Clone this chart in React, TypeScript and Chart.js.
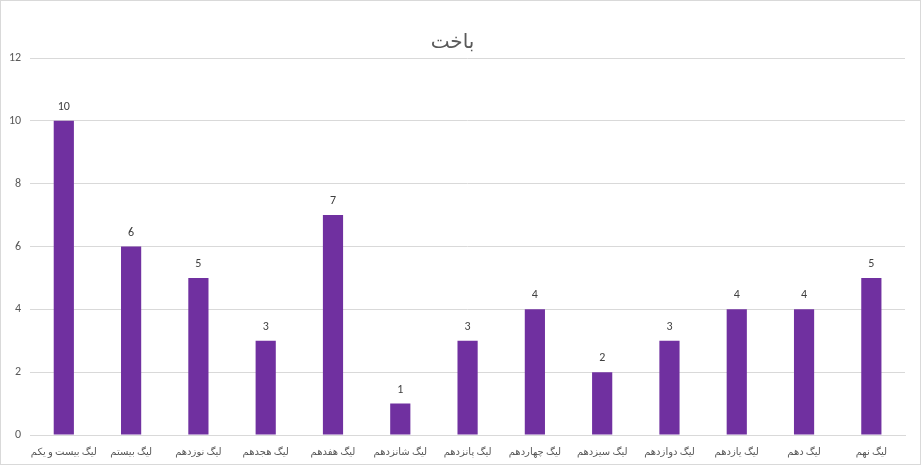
import React, { useEffect, useRef } from "react";
import { Chart, registerables } from "chart.js";

Chart.register(...registerables);

const categories = [
  "لیگ بیست و یکم",
  "لیگ بیستم",
  "لیگ نوزدهم",
  "لیگ هجدهم",
  "لیگ هفدهم",
  "لیگ شانزدهم",
  "لیگ پانزدهم",
  "لیگ چهاردهم",
  "لیگ سیزدهم",
  "لیگ دوازدهم",
  "لیگ یازدهم",
  "لیگ دهم",
  "لیگ نهم",
];
const losses = [10, 6, 5, 3, 7, 1, 3, 4, 2, 3, 4, 4, 5];
const titleText = "باخت";

const FONT = "Calibri, 'Liberation Sans', 'DejaVu Sans', sans-serif";

const dataLabels = {
  id: "dataLabels",
  afterDatasetsDraw(chart: any) {
    const ctx = chart.ctx;
    const meta = chart.getDatasetMeta(0);
    ctx.save();
    ctx.font = `12px ${FONT}`;
    ctx.fillStyle = "#404040";
    ctx.textAlign = "center";
    ctx.textBaseline = "bottom";
    meta.data.forEach((bar: any, i: number) => {
      ctx.fillText(String(chart.data.datasets[0].data[i]), bar.x, bar.y - 8);
    });
    ctx.restore();
  },
};

export default function App() {
  const ref = useRef<HTMLCanvasElement>(null);
  useEffect(() => {
    document.body.style.margin = "0";
    const chart = new Chart(ref.current!, {
      type: "bar",
      data: {
        labels: categories,
        datasets: [
          {
            data: losses,
            backgroundColor: "#7030A0",
            borderWidth: 0,
            barPercentage: 0.3,
            categoryPercentage: 1,
          },
        ],
      },
      options: {
        animation: false,
        responsive: false,
        layout: { padding: { left: -1, right: 15, top: 10, bottom: -5 } },
        plugins: {
          legend: { display: false },
          tooltip: { enabled: false },
          title: {
            display: true,
            text: titleText,
            color: "#595959",
            font: { family: FONT, size: 20, weight: "normal" },
            padding: { top: 20, bottom: 3 },
          },
        },
        scales: {
          x: {
            grid: { display: false, drawTicks: false },
            border: { display: true, color: "#d9d9d9" },
            ticks: {
              color: "#595959",
              font: { family: FONT, size: 10, lineHeight: 1 },
              maxRotation: 0,
              autoSkip: false,
              padding: 12,
            },
          },
          y: {
            min: 0,
            max: 12,
            grid: { color: "#d9d9d9", drawTicks: false },
            border: { display: false },
            ticks: {
              stepSize: 2,
              color: "#595959",
              font: { family: FONT, size: 12 },
              padding: 9,
            },
          },
        },
      },
      plugins: [dataLabels],
    });
    return () => chart.destroy();
  }, []);
  return (
    <div
      style={{
        position: "absolute",
        left: 0,
        top: 0,
        width: 919,
        height: 463,
        border: "1px solid #d9d9d9",
        background: "#fff",
      }}
    >
      <canvas ref={ref} width={919} height={463} />
    </div>
  );
}
